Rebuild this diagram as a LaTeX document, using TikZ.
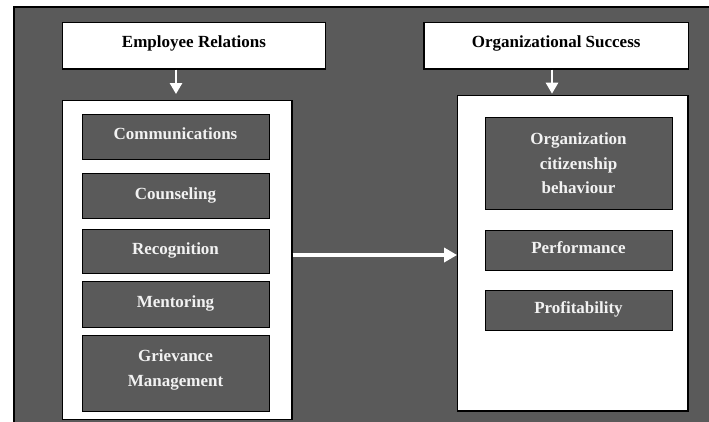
\documentclass[tikz,border=0pt]{standalone}
\usepackage{fontspec}
\setmainfont{Liberation Serif}
\usetikzlibrary{arrows.meta}
\definecolor{bggray}{HTML}{5A5A5A}
\definecolor{txtwhite}{HTML}{F2F2F2}
\begin{document}
\begin{tikzpicture}[x=1pt,y=-1pt,
  lbl/.style={font=\fontsize{17}{24.5}\selectfont\bfseries, align=center, inner sep=0pt},
  headbox/.style={lbl, draw=black, line width=1.3pt, fill=white, text=black, text height=12pt, text depth=9pt},
  container/.style={draw=black, line width=1.3pt, fill=white, inner sep=0pt},
  itembox/.style={lbl, draw=black, line width=1pt, fill=bggray, text=txtwhite, text height=12pt, text depth=5.5pt},
  multibox/.style={lbl, draw=black, line width=1pt, fill=bggray, text=txtwhite},
  varrow/.style={draw=white, line width=2.5pt, -{Triangle[length=11pt,width=12pt]}},
  harrow/.style={draw=white, line width=4pt, -{Triangle[length=13pt,width=14pt]}}
]
\useasboundingbox (0,0) rectangle (709,421);
\fill[white] (0,0) rectangle (709,421);
\draw[black, line width=1.2pt, fill=bggray] (14,7) rectangle (712,424);

\node[headbox, minimum width=263.4pt, minimum height=46.7pt] (er) at (194,45.7) {Employee Relations};
\node[headbox, minimum width=264.3pt, minimum height=46.7pt] (os) at (556.2,45.7) {Organizational Success};

\node[container, minimum width=229.7pt, minimum height=318.8pt] (lc) at (177.2,260.1) {};
\node[container, minimum width=230.3pt, minimum height=315.7pt] (rc) at (572.9,253.2) {};

\node[itembox, minimum width=187pt, minimum height=44.7pt] (comm) at (175.5,136.7) {Communications};
\node[itembox, minimum width=187pt, minimum height=44.3pt] (coun) at (175.5,195.9) {Counseling};
\node[itembox, minimum width=187pt, minimum height=44pt] (reco) at (175.5,251.7) {Recognition};
\node[itembox, minimum width=187pt, minimum height=45.7pt] (ment) at (175.5,304.2) {Mentoring};
\node[multibox, minimum width=187pt, minimum height=76pt] (griev) at (175.5,373) {Grievance\\Management\rule[-10pt]{0pt}{10pt}};

\node[multibox, minimum width=187pt, minimum height=91.7pt] (ocb) at (578.5,163.2) {Organization\\citizenship\\behaviour};
\node[itembox, minimum width=187pt, minimum height=40pt] (perf) at (578.5,250) {Performance};
\node[itembox, minimum width=187pt, minimum height=40.4pt] (prof) at (578.5,310.5) {Profitability};

\draw[varrow, shorten >=6pt] ([xshift=-1.2pt]lc.north |- er.south) -- ([xshift=-1.2pt]lc.north);
\draw[varrow, shorten >=1pt] ([xshift=-4.2pt]os.south) -- ([xshift=-4.2pt]os.south |- rc.north);
\draw[harrow] (lc.east |- 0,255) -- (rc.west |- 0,255);
\end{tikzpicture}
\end{document}
